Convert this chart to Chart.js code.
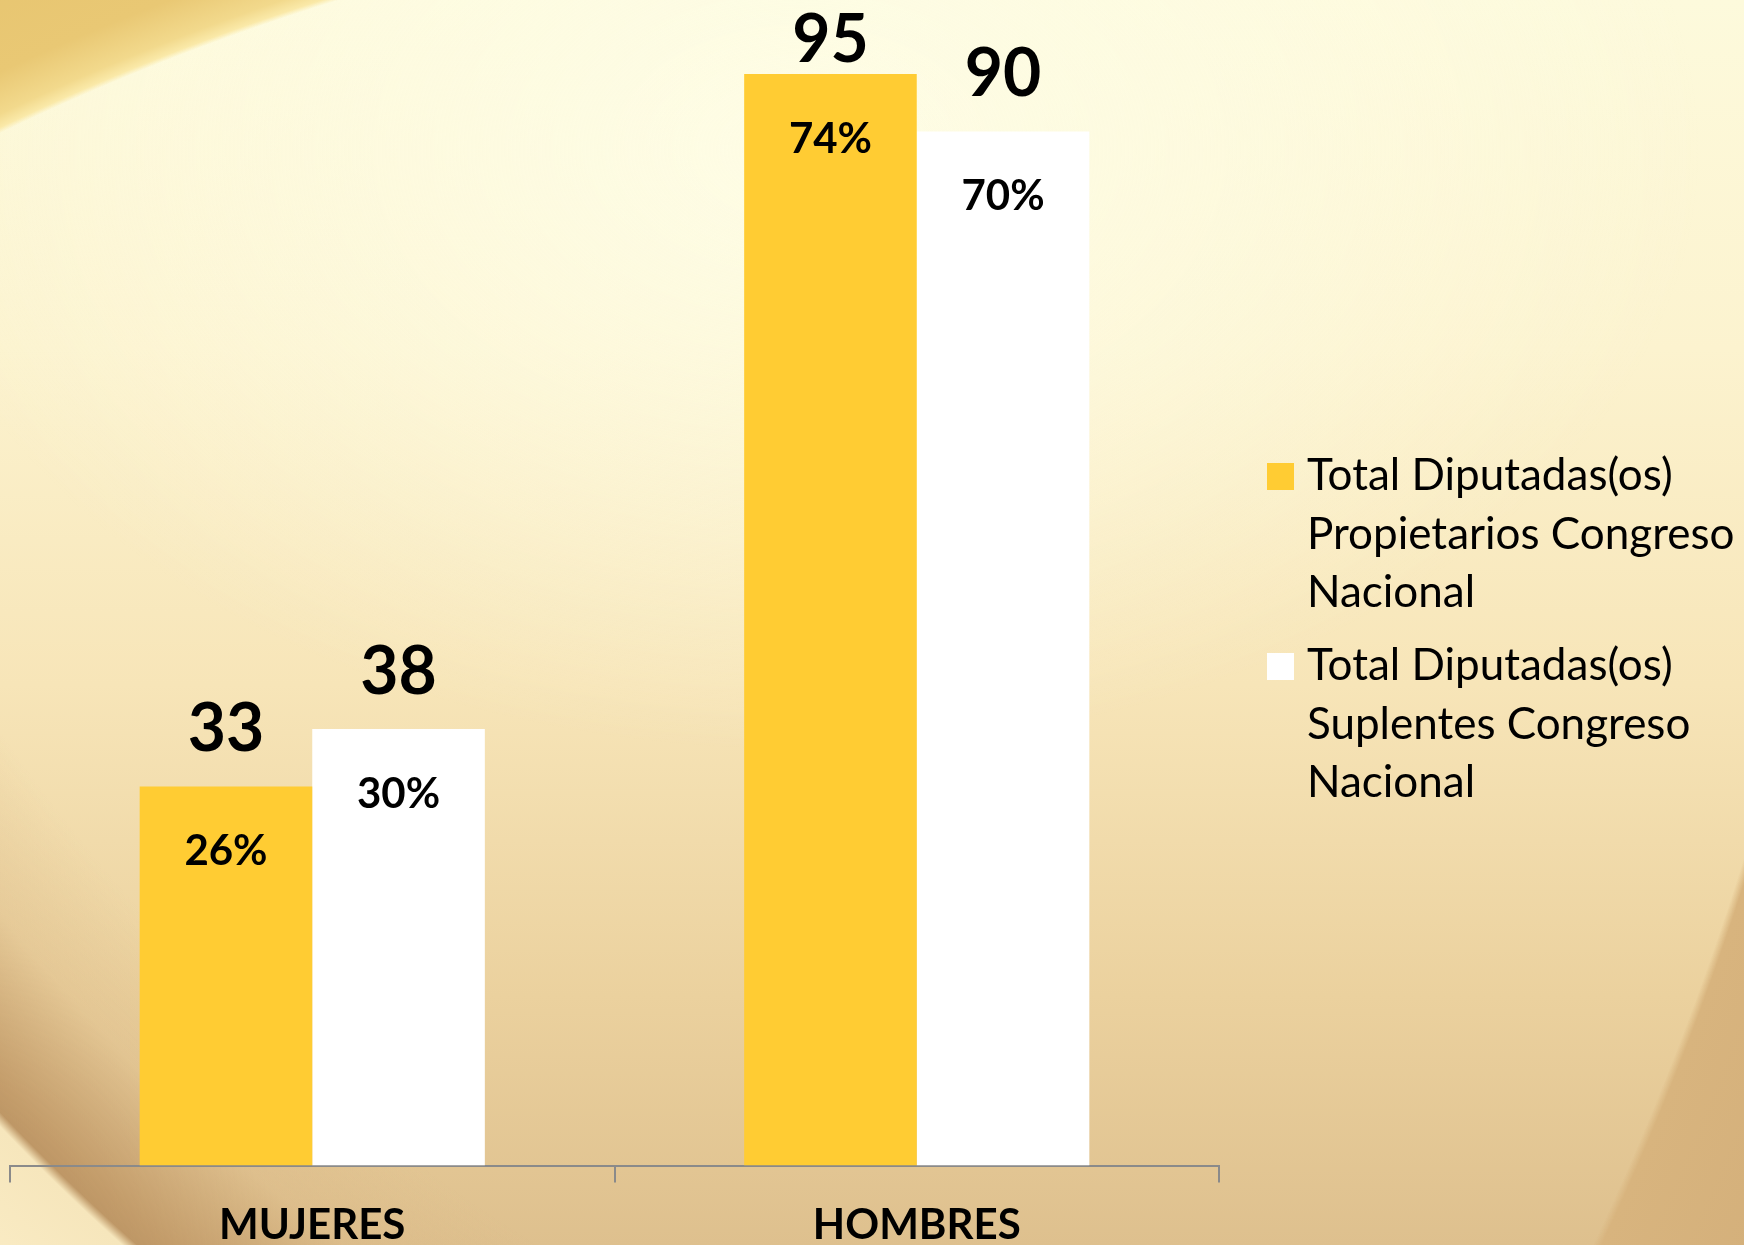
<!DOCTYPE html>
<html>
<head>
<meta charset="utf-8">
<script src="https://cdn.jsdelivr.net/npm/chart.js@4.4.1/dist/chart.umd.min.js"></script>
<style>
  html, body { margin: 0; padding: 0; width: 1744px; height: 1245px; overflow: hidden; }
  body {
    background:
      radial-gradient(ellipse 2200px 1839px at 1100px 1722px, rgba(0,0,0,0) 2196px, #FAE9A8 2202px, #F2D98C 2216px, #E9C874 2260px, #E4C06A 2600px),
      radial-gradient(circle at 1500px -300px, rgba(0,0,0,0) 1820px, rgba(215,180,130,0.35) 1930px, rgba(192,152,102,0.9) 2040px, #BE9766 2060px, #F6E6BC 2070px, #FBEDC6 2200px),
      radial-gradient(circle at -1116px -35px, rgba(0,0,0,0) 2996px, #D8B47E 3004px, #D0AC78 3300px),
      radial-gradient(ellipse 900px 600px at 800px 150px, rgba(254,253,230,0.95) 0%, rgba(254,252,228,0) 100%),
      linear-gradient(180deg, #FDFADC 0%, #FCF3CF 28%, #F7E5B8 55%, #EBD19E 80%, #DEC08E 100%);
  }
  #wrap { position: absolute; left: 0; top: 0; width: 1744px; height: 1269px; }
</style>
</head>
<body>
<div id="wrap"><canvas id="c" width="1744" height="1269"></canvas></div>
<script>
// ---- data ----
const categories = ['MUJERES', 'HOMBRES'];
const propietariosLabel = ['Total Diputadas(os)', 'Propietarios Congreso', 'Nacional'];
const suplentesLabel = ['Total Diputadas(os)', 'Suplentes Congreso', 'Nacional'];
const propietarios = [33, 95];
const suplentes = [38, 90];
const propietariosPct = ['26%', '74%'];
const suplentesPct = ['30%', '70%'];
const yMin = 0;
const yMax = 100;

const FONT = 'Lato, "Open Sans", sans-serif';

const labelsPlugin = {
  id: 'barLabels',
  afterDatasetsDraw(chart) {
    const ctx = chart.ctx;
    ctx.save();
    ctx.fillStyle = '#000000';
    ctx.textAlign = 'center';
    ctx.textBaseline = 'alphabetic';
    chart.data.datasets.forEach((ds, di) => {
      const meta = chart.getDatasetMeta(di);
      meta.data.forEach((bar, i) => {
        ctx.font = 'bold 66px ' + FONT;
        const capH = 47;
        const baseY = Math.max(bar.y - 35, 15 + capH);
        ctx.fillText(String(ds.data[i]), bar.x, baseY);
        ctx.font = 'bold 42px ' + FONT;
        ctx.fillText(ds.pct[i], bar.x, bar.y + 79);
      });
    });
    ctx.restore();
  }
};

const legendPlugin = {
  id: 'wrapLegend',
  afterDraw(chart) {
    const ctx = chart.ctx;
    const ca = chart.chartArea;
    const boxX = ca.right + 48;
    const textX = ca.right + 88;
    const lineH = 58.5;
    const itemGap = 73;
    let baseline = 490;
    ctx.save();
    ctx.font = '44px ' + FONT;
    ctx.textAlign = 'left';
    ctx.textBaseline = 'alphabetic';
    chart.data.datasets.forEach((ds) => {
      ctx.fillStyle = ds.backgroundColor;
      ctx.fillRect(boxX, baseline - 27, 27, 27);
      ctx.fillStyle = '#000000';
      ds.label.forEach((line, li) => {
        ctx.fillText(line, textX, baseline + li * lineH);
      });
      baseline += (ds.label.length - 1) * lineH + itemGap;
    });
    ctx.restore();
  }
};

new Chart(document.getElementById('c'), {
  type: 'bar',
  data: {
    labels: categories,
    datasets: [
      { label: propietariosLabel, data: propietarios, pct: propietariosPct, backgroundColor: '#FFCC33', borderWidth: 0 },
      { label: suplentesLabel, data: suplentes, pct: suplentesPct, backgroundColor: '#FFFFFF', borderWidth: 0 }
    ]
  },
  options: {
    responsive: false,
    animation: false,
    events: [],
    layout: { padding: { left: 10, right: 525, top: 16.5, bottom: 0 } },
    datasets: { bar: { barPercentage: 1.0, categoryPercentage: 0.571 } },
    plugins: { legend: { display: false }, tooltip: { enabled: false } },
    scales: {
      y: { display: false, min: yMin, max: yMax },
      x: {
        offset: true,
        border: { display: true, color: '#8A8A8A', width: 2 },
        grid: { display: true, offset: true, drawOnChartArea: false, drawTicks: true, tickLength: 17, color: '#8A8A8A', lineWidth: 2 },
        ticks: { color: '#000000', padding: 18, font: { family: FONT, size: 42, weight: 'bold' } }
      }
    }
  },
  plugins: [labelsPlugin, legendPlugin]
});
</script>
</body>
</html>
